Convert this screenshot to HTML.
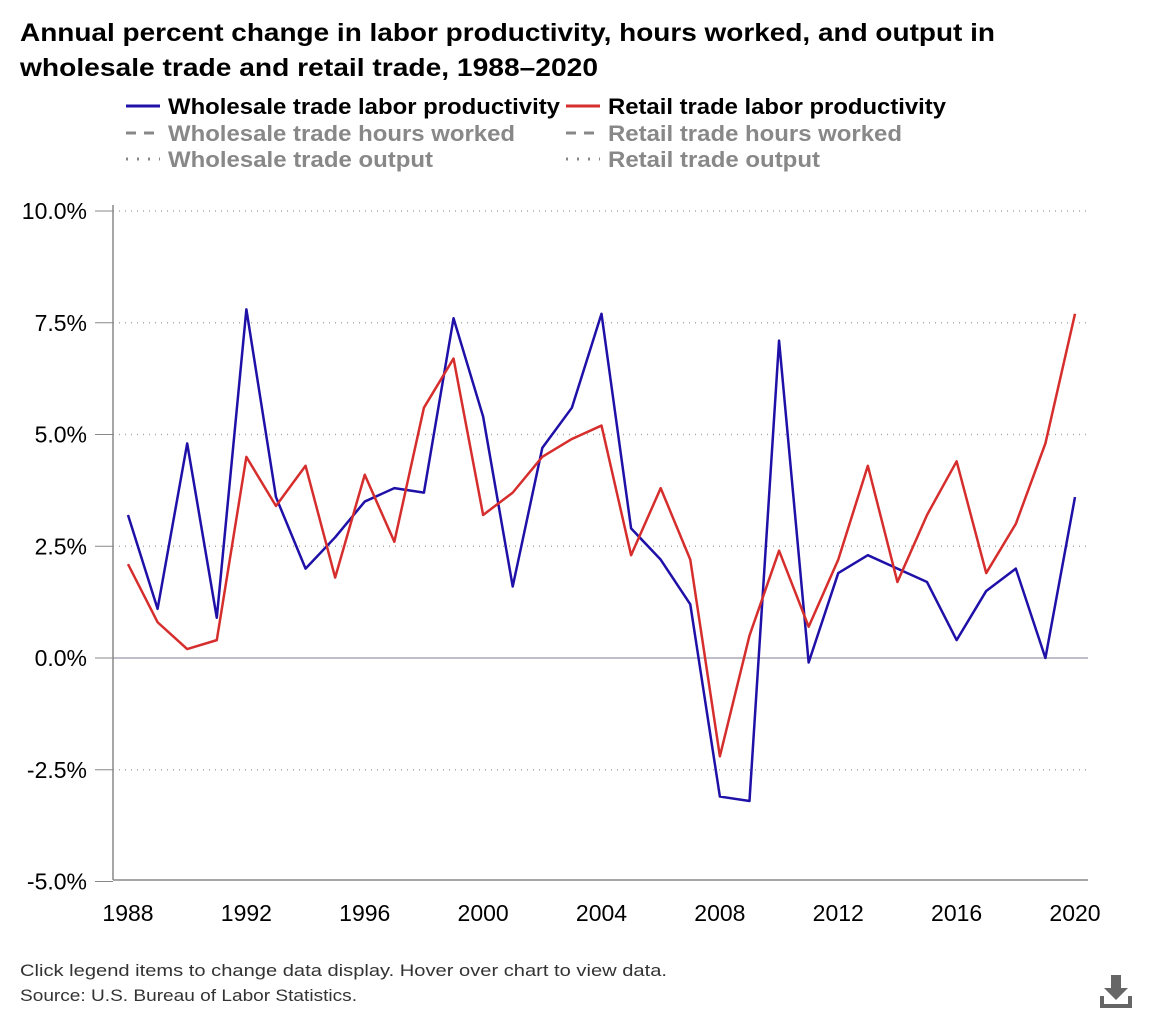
<!DOCTYPE html>
<html><head><meta charset="utf-8"><style>
body{margin:0;background:#fff;font-family:"Liberation Sans",Arial,sans-serif;}
#wrap{position:relative;width:1160px;height:1020px;}
</style></head><body>
<div id="wrap">
<svg id="chart" width="1160" height="1020">
<text x="20" y="41" font-size="25" font-weight="bold" fill="#000" textLength="975" lengthAdjust="spacingAndGlyphs">Annual percent change in labor productivity, hours worked, and output in</text>
<text x="20" y="76" font-size="25" font-weight="bold" fill="#000" textLength="578" lengthAdjust="spacingAndGlyphs">wholesale trade and retail trade, 1988–2020</text>
<g font-size="22" font-weight="bold">
<g><line x1="126" x2="160" y1="106" y2="106" stroke="#1f10a8" stroke-width="3"/><text x="168" y="114" fill="#000" textLength="392" lengthAdjust="spacingAndGlyphs">Wholesale trade labor productivity</text></g>
<g><line x1="566" x2="600" y1="106" y2="106" stroke="#d62d2d" stroke-width="3"/><text x="608" y="114" fill="#000" textLength="338" lengthAdjust="spacingAndGlyphs">Retail trade labor productivity</text></g>
<g><line x1="126" x2="160" y1="133" y2="133" stroke="#888" stroke-width="3" stroke-dasharray="10,8"/><text x="168" y="141" fill="#888" textLength="347" lengthAdjust="spacingAndGlyphs">Wholesale trade hours worked</text></g>
<g><line x1="566" x2="600" y1="133" y2="133" stroke="#888" stroke-width="3" stroke-dasharray="10,8"/><text x="608" y="141" fill="#888" textLength="294" lengthAdjust="spacingAndGlyphs">Retail trade hours worked</text></g>
<g><line x1="126" x2="160" y1="159" y2="159" stroke="#888" stroke-width="3" stroke-dasharray="2,9"/><text x="168" y="167" fill="#888" textLength="265" lengthAdjust="spacingAndGlyphs">Wholesale trade output</text></g>
<g><line x1="566" x2="600" y1="159" y2="159" stroke="#888" stroke-width="3" stroke-dasharray="2,9"/><text x="608" y="167" fill="#888" textLength="212" lengthAdjust="spacingAndGlyphs">Retail trade output</text></g>
</g>
<g id="grid"></g><g id="axes"></g><g id="series"></g>
<text x="20" y="976" font-size="17" fill="#333" textLength="647" lengthAdjust="spacingAndGlyphs">Click legend items to change data display. Hover over chart to view data.</text>
<text x="20" y="1001" font-size="17" fill="#333" textLength="337" lengthAdjust="spacingAndGlyphs">Source: U.S. Bureau of Labor Statistics.</text>
<g fill="#666">
<rect x="1111" y="975" width="10" height="14"/><polygon points="1104,988 1128,988 1116,1000"/><rect x="1100" y="1004" width="32" height="4"/><rect x="1100" y="996" width="4" height="10"/><rect x="1128" y="996" width="4" height="10"/>
</g>
</svg>
</div>
<script>
const years=[1988,1989,1990,1991,1992,1993,1994,1995,1996,1997,1998,1999,2000,2001,2002,2003,2004,2005,2006,2007,2008,2009,2010,2011,2012,2013,2014,2015,2016,2017,2018,2019,2020];
const wholesale=[3.2,1.1,4.8,0.9,7.8,3.6,2.0,2.7,3.5,3.8,3.7,7.6,5.4,1.6,4.7,5.6,7.7,2.9,2.2,1.2,-3.1,-3.2,7.1,-0.1,1.9,2.3,2.0,1.7,0.4,1.5,2.0,0.0,3.6];
const retail=[2.1,0.8,0.2,0.4,4.5,3.4,4.3,1.8,4.1,2.6,5.6,6.7,3.2,3.7,4.5,4.9,5.2,2.3,3.8,2.2,-2.2,0.5,2.4,0.7,2.2,4.3,1.7,3.2,4.4,1.9,3.0,4.8,7.7];
const yTicks=[10,7.5,5,2.5,0,-2.5,-5];
const xTicks=[1988,1992,1996,2000,2004,2008,2012,2016,2020];
const NS="http://www.w3.org/2000/svg";
const x=v=>128+(v-1988)*(1075-128)/32;
const y=v=>658-v*44.7;
function mk(t,a,p){const e=document.createElementNS(NS,t);for(const k in a)e.setAttribute(k,a[k]);p.appendChild(e);return e;}
const grid=document.getElementById('grid'),axes=document.getElementById('axes'),ser=document.getElementById('series');
yTicks.forEach(t=>{
 if(t!==-5){
 const l=mk('line',{x1:113,x2:1088,y1:y(t),y2:y(t),stroke:t===0?'#aab':'#aaa','stroke-width':1.5,'stroke-dasharray':t===0?'':'1,5'},grid);
 
 
 }
 mk('line',{x1:95,x2:113,y1:y(t),y2:y(t),stroke:'#888'},axes);
 const tx=mk('text',{x:87,y:y(t)+8,'text-anchor':'end','font-size':23,fill:'#000'},axes);
 tx.textContent=t.toFixed(1)+'%';
 
 
});
const ya=mk('line',{x1:113,x2:113,y1:205,y2:880,stroke:'#888','stroke-width':1.5},axes);


const xa=mk('line',{x1:113,x2:1088,y1:880,y2:880,stroke:'#888','stroke-width':1.5},axes);


xTicks.forEach(t=>{
 const tx=mk('text',{x:x(t),y:921,'text-anchor':'middle','font-size':23,fill:'#000'},axes);
 tx.textContent=t;
 
 
});
function line(vals,col,name){
 const p=mk('path',{d:vals.map((v,i)=>(i?'L':'M')+x(years[i])+','+y(v)).join(''),fill:'none',stroke:col,'stroke-width':2.5,'stroke-linejoin':'round'},ser);
 
 
}
line(wholesale,'#1f10a8','wholesale-productivity-line');
line(retail,'#d62d2d','retail-productivity-line');
</script>
</body></html>
